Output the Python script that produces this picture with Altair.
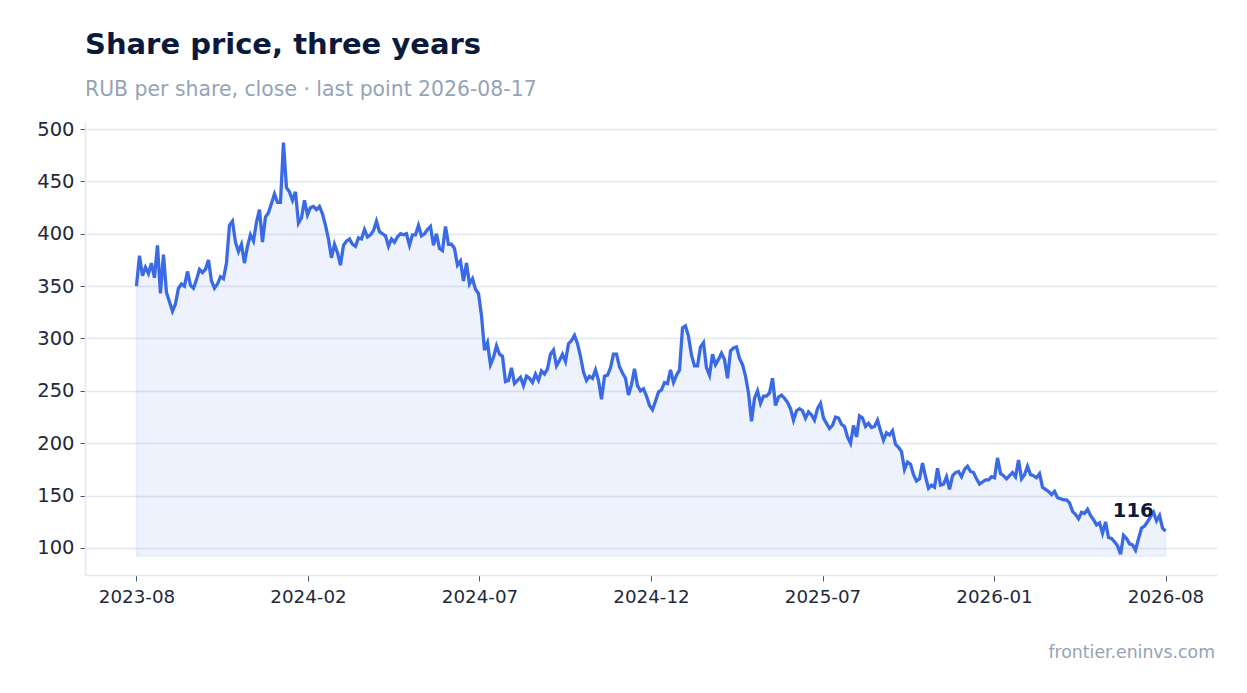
import altair as alt
import pandas as pd

# ---- data (close price, RUB) ----
prices_a = [
    350, 379, 360, 368, 362, 372, 358, 389, 343, 380,
    344, 335, 326, 333, 348, 352, 350, 364, 351, 348,
    356, 366, 363, 366, 375, 355, 348, 352, 359, 357,
    372, 408, 412, 392, 383, 390, 372, 388, 399, 393,
    411, 423, 392, 416, 420, 429, 438, 430, 430, 487,
    444, 440, 432, 440, 410, 415, 432, 418, 425, 426,
    423, 426, 419, 408, 395, 377, 390, 382, 370, 389,
    393, 395, 390, 388, 396, 395, 404, 397, 399, 403,
    412, 402, 400, 398, 388,
]
prices_b = [
    395, 392, 397, 400, 399, 400, 389, 399, 399, 408,
    398, 400, 404, 407, 389, 400, 386, 384, 407, 390,
    390, 386, 370, 374, 355, 372, 352, 357, 347, 343,
    322, 289, 296, 275, 282, 293, 285, 283, 259, 260,
    272, 257, 260, 263, 255, 264, 262, 258, 266, 260,
    269, 266, 271, 285, 289, 274, 279, 285, 278, 295,
    298, 303, 295, 283, 268, 260, 264, 262, 270, 260,
    242, 264, 265, 272, 285, 285, 273, 267, 262, 246,
    256, 271, 255,
]
prices_c = [
    250, 252, 245, 236, 232, 240, 249, 251, 258, 257,
    270, 258, 265, 270, 310, 312, 302, 284, 274, 274,
    292, 296, 272, 265, 285, 275, 280, 286, 280, 262,
    288, 291, 292, 281, 275, 264, 248, 221, 243, 250,
    238, 245, 245, 248, 262, 236, 244, 246, 243, 239,
    233, 222, 231, 233, 231, 224, 230, 227, 222, 233,
    238, 224, 219, 214, 217, 225, 224, 218, 216, 206,
    200, 217, 206, 226, 224, 216, 219, 215, 216, 222,
    212, 203, 210, 208,
]
prices_d = [
    212, 199, 196, 192, 175, 182, 180, 170, 164, 166,
    181, 168, 157, 160, 158, 176, 160, 161, 168, 156,
    169, 172, 173, 168, 175, 178, 173, 172, 166, 161,
    163, 165, 165, 168, 167, 186, 171, 169, 166, 169,
    172, 168, 184, 166, 170, 178, 170, 169, 167, 171,
    158, 156, 154, 151, 154, 148, 147, 146, 146, 143,
    135, 132, 128, 134, 133, 137, 131, 127, 122, 124,
    114, 125, 110, 109, 106, 102, 94, 112, 109, 104,
    103, 98, 109, 119, 121, 125, 130, 134, 126, 131,
    119, 116,
]
tick_labels = ["2023-08", "2024-02", "2024-07", "2024-12", "2025-07", "2026-01", "2026-08"]
y_ticks = [100, 150, 200, 250, 300, 350, 400, 450, 500]
last_label = "116"
area_floor = 92
title_text = "Share price, three years"
subtitle_text = "RUB per share, close · last point 2026-08-17"
footer_text = "frontier.eninvs.com"

prices = prices_a + prices_b + prices_c + prices_d
n = len(prices)
df = pd.DataFrame({"i": list(range(n)), "price": prices})
last_df = df.tail(1).copy()
foot_df = pd.DataFrame({"t": [footer_text]})

W, H = 1132, 453
step = (n - 1) / 6
tick_vals = [k * step for k in range(7)]
pad = 0.05 * (n - 1)
label_arr = "[" + ",".join("'%s'" % t for t in tick_labels) + "]"
label_expr = label_arr + "[round(datum.value / %f)]" % step

FONT = "DejaVu Sans"
BLUE = "#3a6ae6"
AXIS_COL = "#e2e8f0"

x_enc = alt.X(
    "i:Q",
    scale=alt.Scale(domain=[-pad, n - 1 + pad], nice=False, zero=False),
    axis=alt.Axis(values=tick_vals, labelExpr=label_expr, grid=False, title=None,
                  labelFontSize=18.3, labelPadding=7, tickSize=6, labelFlush=False,
                  labelFont=FONT, labelColor="#1e293b", tickColor="#475569",
                  domainColor=AXIS_COL, domainWidth=1.5),
)
y_enc = alt.Y(
    "price:Q",
    scale=alt.Scale(domain=[74.2, 506.7], nice=False, zero=False),
    axis=alt.Axis(values=y_ticks, title=None, labelFontSize=19.5, labelPadding=6,
                  tickSize=5, minExtent=72, maxExtent=72,
                  labelFont=FONT, labelColor="#1e293b", tickColor="#475569",
                  domainColor=AXIS_COL, domainWidth=1.5,
                  gridColor=AXIS_COL, gridWidth=1.5),
)

base = alt.Chart(df)
area = base.mark_area(
    color=BLUE, fillOpacity=0.09, stroke=BLUE, strokeOpacity=0.08, strokeWidth=1.5
).encode(x=x_enc, y=y_enc, y2=alt.datum(area_floor))
line = base.mark_line(color=BLUE, strokeWidth=3.3).encode(x="i:Q", y="price:Q")
lbl = alt.Chart(last_df).mark_text(
    align="right", baseline="alphabetic", dx=-12, dy=-14, fontSize=19.5,
    fontWeight="bold", color="#0b1a3c", font=FONT
).encode(x="i:Q", y="price:Q", text=alt.value(last_label))
foot = alt.Chart(foot_df).mark_text(
    align="right", baseline="alphabetic", fontSize=17.3, color="#94a3b8", font=FONT
).encode(x=alt.value(W - 2), y=alt.value(H + 83), text="t:N")

chart = alt.layer(area, line, lbl, foot).properties(
    width=W, height=H,
    background="white",
    padding={"left": 5, "top": 22, "right": 5, "bottom": 5},
    title=alt.Title(
        text=title_text, subtitle=subtitle_text, anchor="start", frame="group",
        fontSize=29, fontWeight="bold", color="#0b1a3c", font=FONT,
        subtitleFontSize=20.4, subtitleColor="#94a3b8", subtitleFont=FONT,
        subtitlePadding=20, offset=19,
    ),
).configure_view(stroke=None)

chart.save("out.html", embed_options={"renderer": "svg", "actions": False})
